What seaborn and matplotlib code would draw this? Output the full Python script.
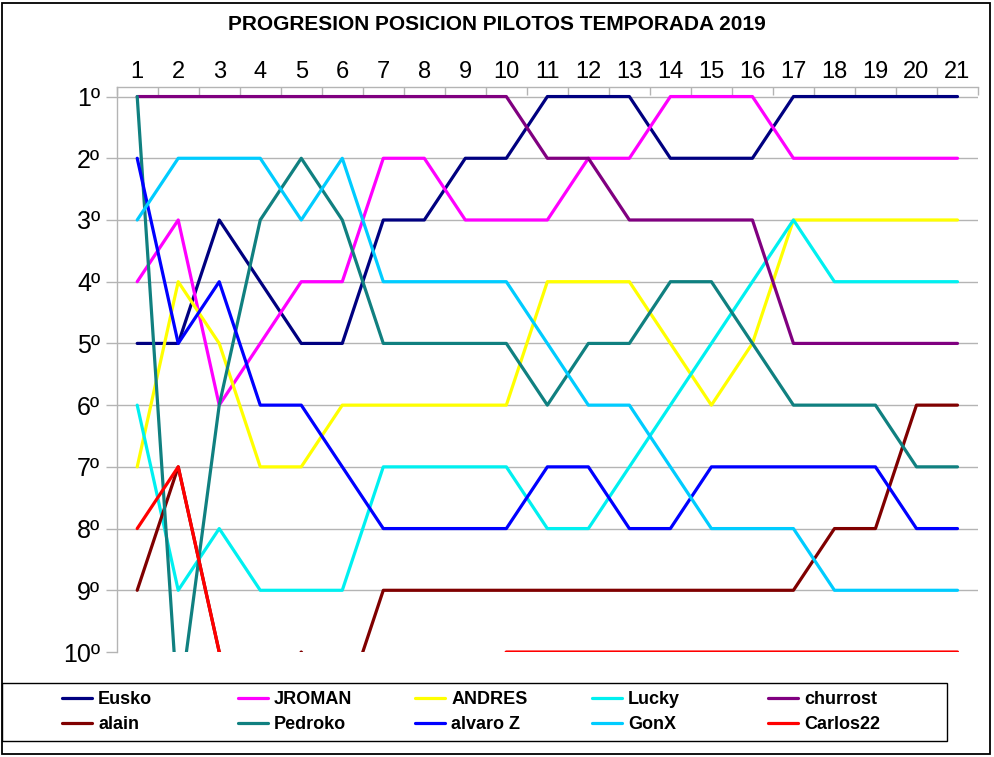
import pandas as pd
import seaborn as sns
import matplotlib.pyplot as plt
from matplotlib.lines import Line2D
from matplotlib.patches import Rectangle

sns.set_theme(style="white")
plt.rcParams['font.family'] = ['Liberation Sans', 'DejaVu Sans']
plt.rcParams['text.color'] = 'black'
plt.rcParams['xtick.labelcolor'] = 'black'
plt.rcParams['ytick.labelcolor'] = 'black'

# Datos: posicion de cada piloto en cada carrera (valores > 10 quedan fuera del grafico)
carreras = list(range(1, 22))
eusko = [5, 5, 3, 4, 5, 5, 3, 3, 2, 2, 1, 1, 1, 2, 2, 2, 1, 1, 1, 1, 1]
jroman = [4, 3, 6, 5, 4, 4, 2, 2, 3, 3, 3, 2, 2, 1, 1, 1, 2, 2, 2, 2, 2]
andres = [7, 4, 5, 7, 7, 6, 6, 6, 6, 6, 4, 4, 4, 5, 6, 5, 3, 3, 3, 3, 3]
lucky = [6, 9, 8, 9, 9, 9, 7, 7, 7, 7, 8, 8, 7, 6, 5, 4, 3, 4, 4, 4, 4]
churrost = [1, 1, 1, 1, 1, 1, 1, 1, 1, 1, 2, 2, 3, 3, 3, 3, 5, 5, 5, 5, 5]
alain = [9, 7, 10, 11, 10, 11, 9, 9, 9, 9, 9, 9, 9, 9, 9, 9, 9, 8, 8, 6, 6]
pedroko = [1, 11, 6, 3, 2, 3, 5, 5, 5, 5, 6, 5, 5, 4, 4, 5, 6, 6, 6, 7, 7]
alvaro_z = [2, 5, 4, 6, 6, 7, 8, 8, 8, 8, 7, 7, 8, 8, 7, 7, 7, 7, 7, 8, 8]
gonx = [3, 2, 2, 2, 3, 2, 4, 4, 4, 4, 5, 6, 6, 7, 8, 8, 8, 9, 9, 9, 9]
carlos22 = [8, 7, 10, 11, 11, 11, 11, 11, 11, 10, 10, 10, 10, 10, 10, 10, 10, 10, 10, 10, 10]

pilotos = ["Eusko", "JROMAN", "ANDRES", "Lucky", "churrost",
           "alain", "Pedroko", "alvaro Z", "GonX", "Carlos22"]
posiciones = [eusko, jroman, andres, lucky, churrost,
              alain, pedroko, alvaro_z, gonx, carlos22]
etiquetas_pos = ["1º", "2º", "3º", "4º", "5º", "6º", "7º", "8º", "9º", "10º"]

colores = {"Eusko": "#000080", "JROMAN": "#ff00ff", "ANDRES": "#ffff00",
           "Lucky": "#00f0f0", "churrost": "#800080", "alain": "#800000",
           "Pedroko": "#108080", "alvaro Z": "#0000ff", "GonX": "#00ccff",
           "Carlos22": "#ff0000"}

largo = pd.DataFrame({
    "carrera": carreras * len(pilotos),
    "posicion": [v for serie in posiciones for v in serie],
    "piloto": [p for p in pilotos for _ in carreras],
})

fig = plt.figure(figsize=(9.94, 7.57), dpi=100)
ax = fig.add_axes([0.1174, 0.1387, 0.8665, 0.7468])

sns.lineplot(data=largo, x="carrera", y="posicion", hue="piloto",
             hue_order=pilotos, palette=colores, linewidth=2.3,
             estimator=None, sort=False, legend=False, ax=ax)

gris = "#b4b4b4"
ax.set_xlim(0.5, 21.5)
ax.set_ylim(10, 0.84)
ax.set_xlabel("")
ax.set_ylabel("")

# eje x arriba, marcas entre carreras
ax.xaxis.tick_top()
ax.set_xticks(carreras)
ax.set_xticklabels([str(c) for c in carreras], fontsize=17)
ax.set_xticks([c - 0.5 for c in carreras] + [21.5], minor=True)
ax.tick_params(axis="x", which="major", length=0, pad=3, labelcolor="black")
ax.tick_params(axis="x", which="minor", direction="in", length=6,
               width=1, color=gris, top=True, bottom=False)

ax.set_yticks(range(1, 11))
ax.set_yticklabels(etiquetas_pos, fontsize=18)
ax.tick_params(axis="y", which="major", direction="out", length=8,
               width=1, color=gris, pad=4, left=True, labelcolor="black")

ax.yaxis.grid(True, color=gris, linewidth=1)
ax.xaxis.grid(False)
ax.get_ygridlines()[-1].set_visible(False)

for lado in ["right", "bottom"]:
    ax.spines[lado].set_visible(False)
for lado in ["top", "left"]:
    ax.spines[lado].set_color(gris)
    ax.spines[lado].set_linewidth(1)

fig.text(0.5, 0.967, "PROGRESION POSICION PILOTOS TEMPORADA 2019",
         ha="center", va="center", fontsize=15, fontweight="bold",
         color="black")

# leyenda en cinco columnas fijas, como en la hoja de calculo
x_leyenda = [62, 238, 415, 592, 768]
for j, x in enumerate(x_leyenda):
    par = [pilotos[j], pilotos[j + 5]]
    manejadores = [Line2D([], [], color=colores[p], linewidth=2.3) for p in par]
    fig.legend(manejadores, par, loc="center left",
               bbox_to_anchor=(x / 994, 1 - 712 / 757), frameon=False,
               prop={"weight": "bold", "size": 13}, handlelength=1.65,
               handletextpad=0.35, borderpad=0, borderaxespad=0,
               labelspacing=0.45, labelcolor="black")

fig.add_artist(Rectangle((2 / 994, 1 - 741 / 757), 945 / 994, 58 / 757,
                         transform=fig.transFigure, fill=False,
                         edgecolor="black", linewidth=1))
fig.add_artist(Rectangle((1.5 / 994, 1 - 754 / 757), 988.5 / 994, 751.5 / 757,
                         transform=fig.transFigure, fill=False,
                         edgecolor="black", linewidth=1.3))

fig.savefig("out.png", dpi=100)
